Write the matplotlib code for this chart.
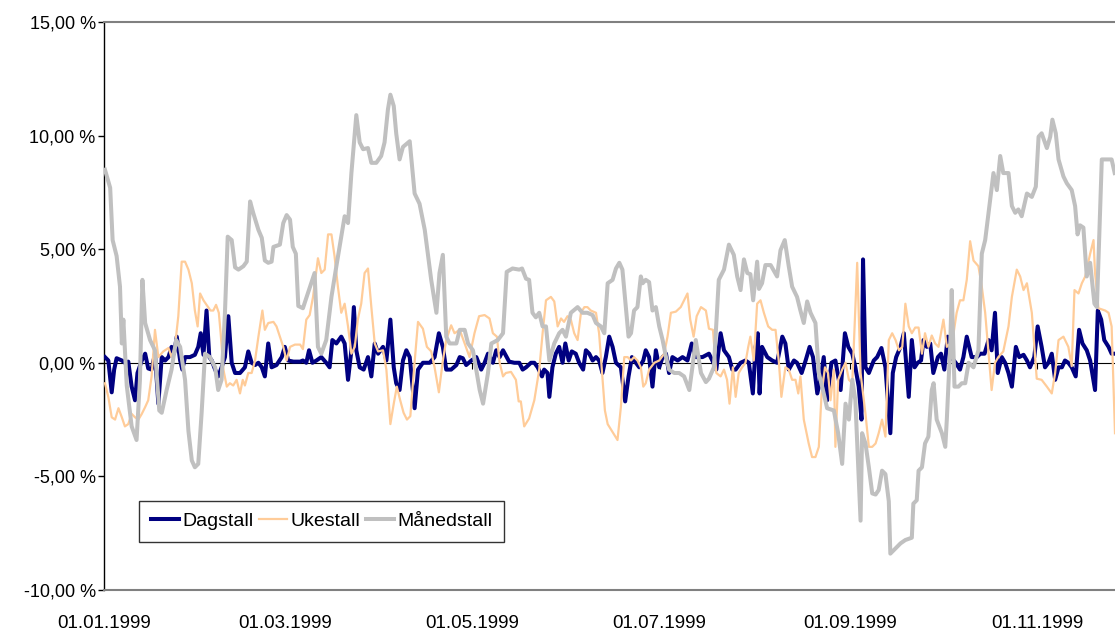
import numpy as np
import pandas as pd
import matplotlib
matplotlib.use("Agg")
import matplotlib.pyplot as plt
import matplotlib.dates as mdates
from matplotlib.ticker import FuncFormatter

plt.rcParams['font.family'] = ['Liberation Sans', 'DejaVu Sans']

start = pd.Timestamp('1999-01-01')

# Dagstall: days after 01.01.1999, value in %
dag_dager = [0.3, 1.4, 2.5, 3.3, 4.1, 5.8, 6.8, 7.9, 9.0, 10.1, 10.9, 12.3, 13.4, 14.4, 15.5, 16.6, 17.7, 18.8,
             19.9, 21.0, 22.0, 22.8, 23.7, 24.8, 25.5, 26.4, 28.0, 29.6, 30.7, 31.5, 32.4, 33.4, 34.3, 35.1,
             36.2, 37.2, 38.3, 39.4, 40.5, 41.6, 42.7, 44.3, 45.9, 47.0, 48.1, 49.2, 50.3, 51.4, 52.4, 53.5,
             54.6, 56.2, 57.9, 58.9, 60.0, 61.7, 63.9,
             64.8, 65.9, 66.8, 67.9, 69.2, 70.8, 72.4, 73.5, 74.4, 75.7, 77.3, 78.4, 79.5, 80.6, 81.4, 82.2,
             83.3, 84.6, 86.0, 87.1, 88.2, 89.3, 90.9, 92.0, 93.3, 94.4, 95.2, 96.3, 97.4, 98.5, 99.6, 101.2,
             102.3, 103.9, 106.1, 107.7, 109.1, 110.4, 111.5, 113.1, 114.8, 115.9, 116.9, 118.0, 119.7, 121.3,
             122.9, 124.0, 125.1, 126.7, 127.8, 128.9, 130.0,
             132.0, 133.7, 135.3, 136.4, 137.5, 139.1, 140.2, 141.3, 142.7, 143.4, 144.5, 145.1, 146.1, 147.2,
             148.3, 149.4, 150.3, 151.4, 152.4, 153.7, 154.8, 156.1, 157.0, 158.1, 159.2, 160.3, 161.3, 162.4,
             163.5, 164.6, 165.7, 166.8, 168.4, 169.8, 170.9, 172.0, 173.3, 174.4, 175.7, 176.5, 177.6, 178.7,
             179.8, 180.9, 182.0, 183.1, 184.1, 185.2, 186.9, 188.5, 190.1, 191.5, 192.8, 195.0,
             197.1, 198.2, 199.5, 200.9, 202.0, 203.6, 204.7, 205.8, 207.4, 209.0, 210.1, 211.4, 212.3, 213.0,
             213.6, 214.4, 216.1, 217.7, 219.3, 221.0, 222.0, 223.1, 224.8, 225.8, 227.3, 228.6, 229.9, 231.0,
             232.4, 233.4, 234.5, 235.6, 237.0, 238.3, 240.0, 241.4, 242.5, 243.8, 244.8, 245.9, 246.8, 247.3,
             248.1, 249.2, 250.8, 251.9, 253.3, 254.6, 256.2, 257.0, 258.1, 259.5, 260.6, 262.2,
             263.2, 264.1, 265.1, 266.2, 267.0, 268.1, 269.2, 270.2, 271.7, 272.7, 273.8, 274.9, 276.0, 277.5,
             278.9, 280.0, 281.1, 281.9, 282.7, 284.4, 285.5, 286.9, 288.2, 289.2, 290.3, 291.2, 292.5, 293.6,
             294.7, 295.8, 297.1, 298.2, 299.6, 300.7, 301.7, 303.1, 304.2, 305.5, 306.6, 307.7, 308.8, 309.9,
             311.0, 312.1, 313.1, 314.2, 315.3, 316.6, 317.7, 318.8, 320.2, 321.3, 322.9, 323.8, 324.9, 325.9,
             327.3, 328.3, 329.3]
dag_verdi = [0.25, 0.1, -1.3, -0.3, 0.2, 0.1, 0.0, 0.05, -1.05, -1.65, -0.45, 0.1, 0.4, -0.25, -0.3, 0.4, -1.8, 0.25,
             0.1, 0.25, 0.7, 0.4, 1.15, 0.1, -0.3, 0.25, 0.25, 0.35, 0.7, 1.3, 0.35, 2.3, 0.25, 0.1,
             -0.3, -0.6, -0.2, 0.25, 2.05, 0.0, -0.45, -0.45, -0.2, 0.5, 0.0, -0.1, 0.0, -0.2, -0.6, 0.85,
             -0.2, -0.1, 0.25, 0.7, 0.1, 0.05, 0.05,
             0.1, 0.0, 0.55, 0.0, 0.1, 0.25, 0.0, -0.2, 1.0, 0.85, 1.15, 0.85, -0.75, 0.55, 2.45, 0.55,
             -0.2, -0.3, 0.25, -0.6, 0.85, 0.4, 0.7, 0.1, 1.9, -0.2, -0.9, -1.2, 0.1, 0.55, 0.25, -2.0,
             -0.3, 0.0, 0.0, 0.25, 1.3, 0.7, -0.3, -0.3, -0.1, 0.25, 0.2, -0.1, 0.1, 0.25,
             -0.3, 0.0, 0.4, 0.0, 0.55, 0.25, 0.55,
             0.05, 0.0, 0.0, -0.3, -0.2, 0.0, 0.0, -0.2, -0.6, -0.3, -0.45, -1.5, -0.2, 0.4,
             0.7, 0.0, 0.85, 0.1, 0.5, 0.4, 0.0, -0.3, 0.55, 0.4, 0.1, 0.25, 0.1, -0.45,
             0.25, 1.15, 0.7, 0.0, -0.2, -1.7, -0.6, 0.25, 0.0, -0.2, 0.1, 0.55, 0.25, -1.05,
             0.55, -0.2, 0.25, 0.4, -0.45, 0.25, 0.1, 0.25, 0.1, 0.85, 0.25, 0.25,
             0.4, 0.1, -0.3, 1.3, 0.55, 0.25, -0.3, -0.3, 0.0, 0.1, 0.0, -1.35, 0.7, 1.3,
             -1.35, 0.7, 0.25, 0.1, 0.0, 1.15, 0.85, -0.3, 0.1, 0.0, -0.45, 0.1, 0.7, 0.25,
             -1.35, -0.75, 0.25, -1.65, 0.0, 0.1, -1.2, 1.3, 0.7, 0.4, -0.2, -1.05, -2.5, 4.55,
             -0.2, -0.45, 0.1, 0.25, 0.65, -0.2, -3.1, -0.45, 0.25, 0.7, 1.3, -1.5,
             1.0, -0.2, 0.0, 0.1, 1.0, 0.7, 0.85, -0.45, 0.25, 0.4, -0.3, 1.15, 0.25, 0.0,
             -0.3, 0.25, 1.15, 0.7, 0.25, 0.25, 0.4, 0.4, 1.0, 0.55, 2.2, -0.45, 0.25, 0.0,
             -0.45, -1.05, 0.7, 0.25, 0.35, 0.1, -0.2, 0.25, 1.6, 0.7, -0.2, 0.0, 0.4, -0.75,
             -0.2, -0.2, 0.1, 0.0, -0.2, -0.6, 1.45, 0.85, 0.55, 0.1, -1.2, 2.3, 1.9, 1.0,
             0.7, 0.4, 0.4]

# Ukestall
uke_dager = [0.3, 1.4, 2.5, 3.6, 4.7, 5.8, 6.8, 7.9, 9.0, 10.1, 11.2, 12.3, 13.4, 14.4, 15.5, 16.6, 17.7, 19.3,
             21.0, 22.0, 23.1, 24.2, 25.3, 26.4, 27.5, 28.6, 29.6, 30.5, 31.3, 32.4, 33.4, 34.7, 35.6, 36.5,
             37.4, 38.0, 38.9, 40.0, 41.0, 42.1, 43.2, 44.3, 45.2, 45.9, 47.0, 48.1, 49.2, 50.3, 51.6, 52.4,
             53.5, 55.2, 56.2, 57.3, 58.4, 59.5, 60.6, 62.2, 63.9,
             64.8, 65.9, 67.0, 68.1, 69.7, 70.8, 71.9, 73.0, 74.1, 75.1, 76.2, 77.3, 78.4, 79.5, 80.6, 81.7,
             82.7, 83.8, 84.9, 86.0, 87.1, 88.2, 89.3, 90.9, 92.0, 93.3, 94.4, 95.4, 96.5, 97.6, 98.7, 99.8,
             100.9, 102.3, 103.9, 105.2, 106.6, 107.7, 109.1, 110.4, 111.5, 113.1, 114.2, 115.9, 117.5, 119.1,
             120.7, 122.2, 124.0, 125.6, 126.7, 128.0, 128.9, 130.0,
             130.9, 132.6, 134.2, 135.1, 135.8, 136.9, 138.5, 140.2, 141.8, 142.9, 144.0, 145.6, 146.7, 147.8,
             148.9, 149.9, 151.0, 152.1, 153.2, 154.3, 155.4, 156.5, 157.5, 158.6, 160.3, 161.3, 162.2, 163.2,
             164.1, 165.7, 167.3, 168.4, 169.5, 170.6, 171.7, 172.7, 173.8, 174.9, 175.7, 176.5, 177.6, 179.3,
             180.9, 182.5, 183.6, 184.7, 186.3, 187.9, 189.0, 190.1, 191.0, 192.1, 193.1, 194.5, 196.1,
             197.1, 198.4, 199.5, 200.9, 202.0, 203.0, 203.8, 204.9, 205.8, 206.8, 207.9, 209.0, 209.9, 210.6,
             211.7, 212.8, 213.9, 215.0, 216.4, 217.7, 218.8, 219.9, 220.7, 222.0, 223.1, 224.2, 225.3, 226.2,
             226.9, 228.0, 229.6, 230.7, 231.8, 232.9, 233.8, 234.9, 235.9, 236.7, 237.8, 238.3, 239.2, 240.5,
             241.6, 242.7, 243.8, 245.4, 246.5, 248.1, 249.2, 250.3, 251.4, 252.4, 253.5, 254.6, 255.7, 256.8,
             257.9, 259.0, 260.1, 261.1, 262.2,
             263.2, 264.3, 265.4, 266.5, 267.5, 268.6, 269.7, 270.8, 271.9, 273.5, 274.6, 275.7, 276.8, 277.8,
             278.9, 280.0, 281.1, 282.2, 283.3, 284.9, 286.0, 287.1, 288.2, 289.2, 290.3, 291.4, 293.0, 294.7,
             295.8, 297.4, 298.5, 299.6, 300.7, 302.3, 303.9, 305.5, 307.2, 308.8, 309.9, 311.0, 312.6, 314.2,
             315.3, 316.2, 317.5, 318.6, 319.7, 321.3, 322.4, 322.9, 324.0, 326.2, 327.3, 328.3, 329.4]
uke_verdi = [-0.9, -1.5, -2.4, -2.5, -2.0, -2.4, -2.8, -2.7, -2.25, -2.4, -2.5, -2.25, -1.95, -1.65, -0.6, 1.45, 0.25, 0.5,
             0.65, 0.25, 0.7, 2.05, 4.45, 4.45, 4.1, 3.5, 2.3, 1.6, 3.05, 2.75, 2.55, 2.3, 2.3, 2.55,
             2.2, 1.3, -0.3, -1.05, -0.9, -1.0, -0.75, -1.35, -0.75, -1.0, -0.45, -0.45, 0.1, 1.15, 2.3, 1.45,
             1.75, 1.8, 1.6, 1.15, 0.7, 0.1, 0.7, 0.8, 0.8,
             0.6, 1.9, 2.1, 2.9, 4.6, 3.95, 4.1, 5.65, 5.65, 4.7, 3.35, 2.2, 2.6, 1.6, 0.4, 0.7,
             1.9, 2.6, 3.95, 4.15, 2.45, 0.85, 0.5, 0.55, -0.3, -2.7, -1.8, -1.05, -1.65, -2.2, -2.5, -2.35,
             -0.45, 1.8, 1.5, 0.7, 0.5, -0.2, -1.3, 0.1, 1.0, 1.65, 1.3, 1.45, 0.85, 0.25,
             1.3, 2.05, 2.1, 1.95, 1.3, 1.15, 0.0, -0.6,
             -0.45, -0.4, -0.75, -1.7, -1.7, -2.8, -2.45, -1.65, -0.3, 1.3, 2.75, 2.9, 2.7, 1.6,
             1.95, 1.8, 2.05, 1.9, 1.3, 1.0, 2.2, 2.45, 2.45, 2.3, 2.2, 1.3, -0.3, -2.1,
             -2.7, -3.05, -3.4, -1.95, 0.25, 0.25, 0.1, 0.25, 0.1, -0.2, -1.05, -0.9, -0.3, 0.0,
             0.1, 0.4, 1.15, 2.2, 2.25, 2.45, 2.75, 3.05, 1.9, 1.15, 2.05, 2.45, 2.3,
             1.5, 1.45, -0.45, -0.6, -0.3, -0.75, -1.8, -0.2, -1.5, -0.45, -0.2, 0.0, 0.7, 1.15,
             0.1, 2.6, 2.75, 2.2, 1.6, 1.45, 1.45, 0.0, -1.5, -0.2, -0.3, -0.75, -0.75, -1.35,
             -0.6, -2.5, -3.55, -4.15, -4.15, -3.7, -1.35, -0.2, -0.45, -1.65, -0.3, -3.7, -0.75, -0.3,
             0.0, -0.75, -0.9, 4.4, -0.45, -2.25, -3.7, -3.7, -3.55, -3.1, -2.5, -3.25, 1.0, 1.3,
             1.0, 0.55, 0.7, 2.6, 1.6,
             1.3, 1.55, 1.55, 0.4, 1.3, 0.7, 1.2, 0.85, 0.7, 1.9, 0.7, 0.85, 1.3, 2.2,
             2.75, 2.75, 3.65, 5.35, 4.5, 4.25, 3.35, 2.2, 0.4, -1.2, 0.0, 0.25, 0.5, 1.6,
             2.9, 4.1, 3.8, 3.2, 3.5, 2.2, -0.7, -0.75, -1.05, -1.35, -0.45, 1.0, 1.15, 0.7,
             -0.15, 3.2, 3.05, 3.5, 3.8, 4.8, 5.4, 3.95, 2.4, 2.3, 2.2, 1.6, -3.1]

# Månedstall
mnd_dager = [0.3, 2.0, 2.8, 4.1, 5.2, 5.8, 6.3, 7.4, 9.0, 10.6, 11.7, 12.5, 13.4, 15.0, 16.6, 18.0, 18.8, 20.4,
             22.0, 23.5, 24.8, 26.4, 27.5, 28.6, 29.6, 30.7, 31.8, 32.9, 34.5, 36.2, 37.2, 38.3, 39.4, 40.3,
             41.6, 42.7, 43.8, 45.4, 46.5, 47.6, 48.6, 50.3, 51.4, 52.4, 53.5, 54.6, 55.2, 57.3, 58.4, 59.5,
             60.6, 61.5, 62.5, 63.3, 64.8, 68.6, 69.7, 70.8, 72.4, 74.1, 75.7, 77.3, 78.4, 79.5, 80.6, 82.2,
             83.3, 84.4, 86.0, 87.1, 88.7, 90.3, 91.4, 92.5, 93.3, 94.4, 95.2, 96.3, 97.4, 99.6, 101.2, 102.8,
             104.5, 106.6, 108.3, 109.3, 110.4, 111.5, 112.6, 114.8, 115.9, 117.5, 118.6, 120.2, 122.4, 123.5,
             125.1, 126.2, 128.3, 130.0, 131.2, 133.1, 135.3, 136.2, 137.5, 138.5, 139.6, 140.7, 141.8, 142.9,
             144.0, 145.1, 146.7, 148.3, 149.4, 150.5, 152.1, 154.3, 155.9, 157.5, 159.2, 160.3, 161.9, 163.0,
             164.1, 165.7, 166.8, 167.9, 168.9, 170.0, 170.9, 171.7, 172.7, 173.8, 174.9, 175.5, 176.5, 177.6,
             178.7, 179.8, 180.9, 182.0, 183.1, 184.1, 185.8, 187.4, 189.0, 190.7, 191.7, 192.8, 194.5, 196.1,
             197.1, 198.7, 200.3, 202.0, 203.6, 205.2, 206.3, 207.4, 208.5, 209.6, 210.6, 211.5, 212.8, 213.4,
             214.4, 215.5, 217.2, 219.3, 220.4, 221.8, 223.1, 224.2, 225.8, 226.9, 228.0, 229.1, 230.2, 231.8,
             232.9, 234.5, 235.6, 237.8, 239.2, 240.5, 241.6, 242.7, 243.8, 244.8, 246.5, 247.0, 248.1, 249.2,
             250.3, 251.4, 252.4, 253.5, 254.6, 255.7, 256.2, 257.3, 258.4, 259.5, 261.1, 262.2, 263.2, 263.7,
             264.8, 265.4, 266.5, 267.5, 268.6, 269.7, 270.3, 271.3, 273.0, 274.1, 274.6, 275.7, 276.2, 277.1,
             278.4, 279.5, 280.6, 281.7, 283.3, 284.9, 286.0, 287.1, 288.2, 289.8, 290.9, 292.0, 293.0, 294.7,
             295.8, 296.9, 297.9, 299.0, 300.7, 302.3, 303.6, 304.5, 305.5, 307.2, 308.3, 309.0, 310.1, 311.0,
             312.6, 313.7, 315.3, 316.4, 317.2, 318.0, 319.1, 320.2, 321.3, 322.7, 323.5, 325.1, 326.2, 328.3,
             329.3]
mnd_verdi = [8.5, 7.7, 5.4, 4.7, 3.35, 0.85, 1.9, -1.0, -2.8, -3.4, -0.75, 3.65, 1.75, 1.0, 0.55, -2.1, -2.2, -1.2,
             -0.3, 1.0, 0.7, -0.75, -3.0, -4.3, -4.6, -4.45, -2.2, 0.4, 0.25, -0.2, -1.2, -0.75, 2.2, 5.55,
             5.4, 4.2, 4.1, 4.25, 4.45, 7.1, 6.6, 5.85, 5.5, 4.5, 4.4, 4.45, 5.1, 5.2, 6.15, 6.5,
             6.3, 5.1, 4.8, 2.5, 2.4, 3.95, 0.7, 0.4, 1.0, 2.9, 4.25, 5.55, 6.45, 6.15, 8.35, 10.9,
             9.7, 9.4, 9.45, 8.8, 8.8, 9.1, 9.7, 11.15, 11.8, 11.3, 10.1, 8.95, 9.5, 9.75, 7.45, 7.0,
             5.85, 3.65, 2.2, 3.95, 4.75, 1.15, 0.85, 0.85, 1.45, 1.45, 0.85, 0.55, -1.2, -1.8,
             -0.45, 0.85, 1.0, 1.3, 4.0, 4.15, 4.1, 4.15, 3.7, 3.65, 2.2, 2.0, 2.2, 1.6,
             1.6, 0.1, 0.85, 1.3, 1.45, 1.15, 2.2, 2.45, 2.2, 2.2, 2.1, 1.75, 1.6, 1.3,
             3.5, 3.65, 4.15, 4.4, 4.1, 2.45, 1.15, 1.3, 2.3, 2.45, 3.8, 3.5, 3.65, 3.55,
             2.3, 2.45, 1.6, 1.0, 0.25, -0.3, -0.45, -0.45, -0.6, -1.2, -0.2, 1.0, -0.45, -0.85,
             -0.7, -0.2, 3.65, 4.1, 5.2, 4.75, 3.8, 3.2, 4.55, 3.95, 3.9, 2.75, 4.45, 3.25,
             3.5, 4.3, 4.3, 3.8, 4.95, 5.4, 4.25, 3.35, 2.9, 2.3, 1.75, 2.7, 2.2, 1.75,
             -0.45, -1.35, -2.0, -2.1, -3.1, -4.45, -1.8, -2.5, -0.75, -1.65, -6.95, -3.1, -3.55, -4.6,
             -5.75, -5.8, -5.6, -4.75, -4.9, -6.1, -8.4, -8.25, -8.1, -7.95, -7.8, -7.75, -7.7, -6.2,
             -6.05, -4.75, -4.6, -3.55, -3.25, -1.2, -0.9, -2.5, -3.1, -3.7, -2.5, 0.7, 3.2, -1.05,
             -1.05, -0.9, -0.9, 0.0, -0.2, 0.55, 4.8, 5.4, 6.6, 8.35, 7.6, 9.1, 8.35, 8.35,
             6.9, 6.6, 6.75, 6.45, 7.45, 7.3, 7.75, 9.95, 10.1, 9.45, 9.95, 10.7, 10.1, 8.95,
             8.2, 7.9, 7.6, 6.9, 5.65, 6.05, 5.95, 3.8, 4.4, 2.6, 2.45, 8.95, 8.95, 8.95,
             8.35]

tick_datoer = ['1999-01-01', '1999-03-01', '1999-05-01', '1999-07-01', '1999-09-01', '1999-11-01']


def til_dato(dager):
    return start + pd.to_timedelta(np.array(dager), unit='D')


fig = plt.figure(figsize=(11.15, 6.35), dpi=100)
ax = fig.add_axes([0.0933, 0.0709, 0.9067, 0.8945])

ax.plot(til_dato(dag_dager), dag_verdi, color='#000080', lw=2.9, label='Dagstall', zorder=3,
        solid_joinstyle='round')
ax.plot(til_dato(uke_dager), uke_verdi, color='#FFCC99', lw=1.6, label='Ukestall', zorder=4)
ax.plot(til_dato(mnd_dager), mnd_verdi, color='#C0C0C0', lw=2.9, label='Månedstall', zorder=5,
        solid_joinstyle='round')

# horizontal axis line at 0 with small tick marks
ax.axhline(0, color='black', lw=0.8, zorder=2)
ticks = pd.to_datetime(tick_datoer)
ax.plot(ticks, np.zeros(len(ticks)), ls='none', marker=3, ms=4, mew=0.8, color='black', zorder=2)

ax.set_xlim(start, start + pd.Timedelta(days=329.4))
ax.set_ylim(-10, 15)
ax.set_yticks([-10, -5, 0, 5, 10, 15])
ax.yaxis.set_major_formatter(FuncFormatter(lambda v, p: f"{v:.2f}".replace('.', ',') + " %"))
ax.set_xticks(ticks)
ax.xaxis.set_major_formatter(mdates.DateFormatter('%d.%m.%Y'))

ax.tick_params(axis='y', direction='out', length=4, width=1, pad=2, labelsize=13, colors='black')
ax.tick_params(axis='x', length=0, pad=18, labelsize=13.5)

for s in ['top', 'bottom']:
    ax.spines[s].set_color('#808080')
    ax.spines[s].set_linewidth(1.5)
ax.spines['right'].set_visible(False)
ax.spines['left'].set_color('black')
ax.spines['left'].set_linewidth(1)

leg = ax.legend(loc='upper left', bbox_to_anchor=(0.035, 0.157), ncol=3, fontsize=14,
                frameon=True, fancybox=False, edgecolor='black', handlelength=1.45,
                handletextpad=0.15, columnspacing=0.3, borderpad=0.6, borderaxespad=0)
leg.get_frame().set_linewidth(1)

fig.savefig('out.png', dpi=100)
